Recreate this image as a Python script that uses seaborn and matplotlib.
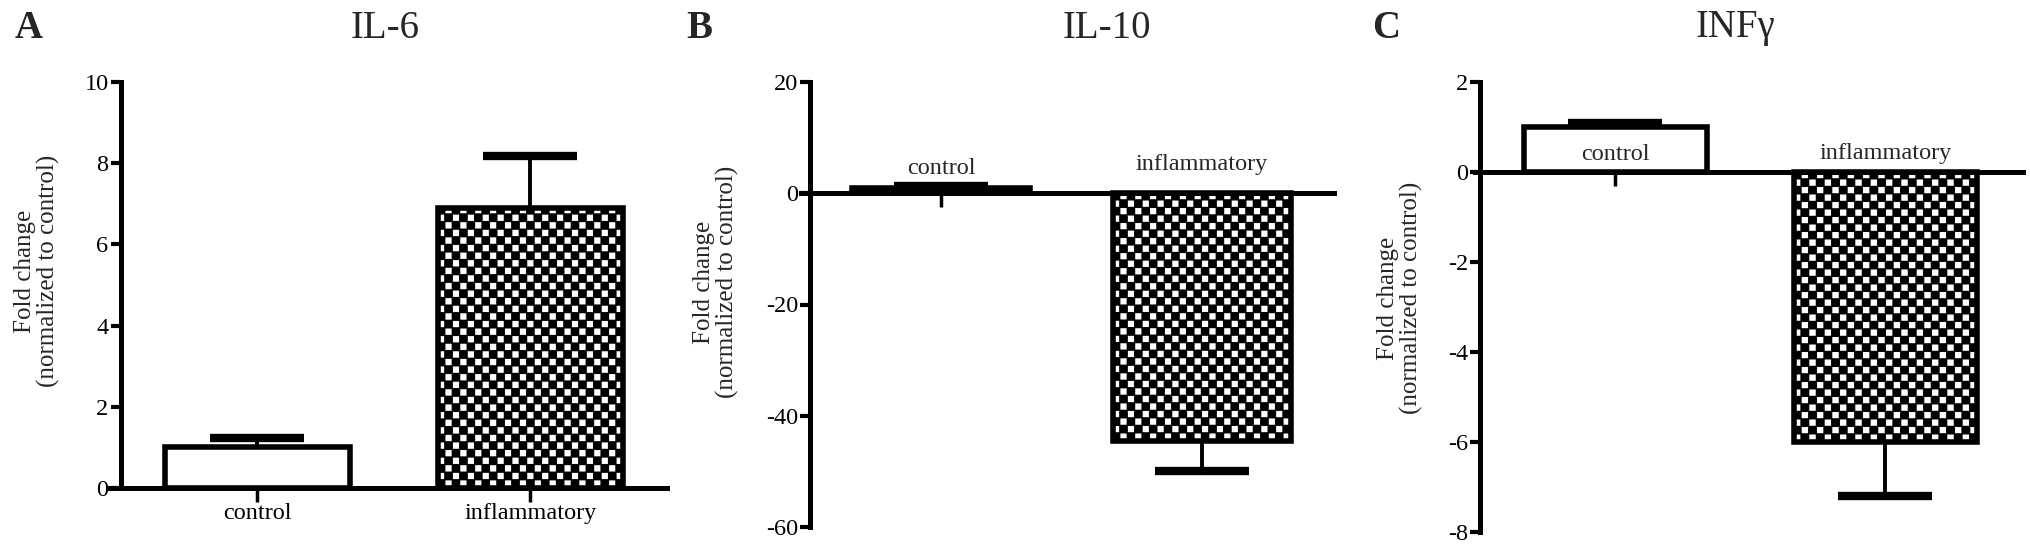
import numpy as np
import pandas as pd
import matplotlib
matplotlib.use("Agg")
import matplotlib.pyplot as plt
import seaborn as sns

# data (mean, one-sided SEM)
categories = ["control", "inflammatory"]

il6_mean = [1.0, 6.9]
il6_sem = [0.24, 1.28]

il10_mean = [1.0, -44.5]
il10_sem = [0.3, 5.5]

infg_mean = [1.0, -6.0]
infg_sem = [0.1, 1.2]

titles = ["IL-6", "IL-10", "INFγ"]
letters = ["A", "B", "C"]
ylims = [(0, 10), (-60, 20), (-8, 2)]
yticks = [[0, 2, 4, 6, 8, 10], [-60, -40, -20, 0, 20], [-8, -6, -4, -2, 0, 2]]
ylabel = "Fold change\n(normalized to control)"

W, H = 2031, 554

# layout in pixels: (left, top, right, bottom) of the axes, x limits,
# title / letter / ylabel centres, label offset above zero line (pt) or None
layout = [
    dict(box=(108.7, 82, 667, 488), xlim=(-0.545, 1.5), title_x=385, letter_x=29,
         ylab=(37, 271), lab_off=None),
    dict(box=(801, 82, 1334, 527), xlim=(-0.536, 1.506), title_x=1107, letter_x=699,
         ylab=(716, 282), lab_off=(13.5, 16.5)),
    dict(box=(1475, 82, 2023, 532), xlim=(-0.52, 1.51), title_x=1735, letter_x=1386,
         ylab=(1400, 298), lab_off=(9, 9)),
]

sns.set_style("ticks")
plt.rcParams["font.family"] = ["Liberation Serif", "DejaVu Serif"]
plt.rcParams["axes.unicode_minus"] = False

SMALL = 17.5


def checker_fill(ax, patch, cell_px=7.5, sub=6):
    """Fill a bar patch with a black/white checkerboard, clipped to the bar."""
    x0, y0 = patch.get_x(), patch.get_y()
    w, h = patch.get_width(), patch.get_height()
    (px0, py0), (px1, py1) = ax.transData.transform([(x0, y0), (x0 + w, y0 + h)])
    nx = max(1, int(round(abs(px1 - px0) / cell_px)))
    ny = max(1, int(round(abs(py1 - py0) / cell_px)))
    yy, xx = np.indices((ny * sub, nx * sub))
    cell = (yy // sub + xx // sub) % 2
    inner = (yy % sub < sub - 1) & (xx % sub < sub - 1)
    tex = np.where((cell == 1) & inner, 1.0, 0.0)
    ext = [x0, x0 + w, min(y0, y0 + h), max(y0, y0 + h)]
    im = ax.imshow(tex, cmap="gray", vmin=0, vmax=1, extent=ext, aspect="auto",
                   interpolation="antialiased", zorder=patch.get_zorder() - 0.1)
    im.set_clip_path(patch)
    patch.set_facecolor("none")


def draw_panel(fig, lay, means, sems, ylim, ticks, title, letter):
    l, t, r, b = lay["box"]
    ax = fig.add_axes([l / W, 1 - b / H, (r - l) / W, (b - t) / H])

    df = pd.DataFrame({"group": categories, "value": means})
    sns.barplot(data=df, x="group", y="value", order=categories, color="white",
                edgecolor="black", linewidth=4, width=0.68, errorbar=None,
                saturation=1, ax=ax)

    ax.set_xlim(lay["xlim"])
    ax.set_ylim(ylim)
    ax.set_yticks(ticks)

    # one-sided error bars (away from zero)
    for i, (m, s) in enumerate(zip(means, sems)):
        err = [[0], [s]] if m >= 0 else [[s], [0]]
        _, caps, _ = ax.errorbar([i], [m], yerr=err, fmt="none", ecolor="black",
                                 elinewidth=2.8, capsize=34, capthick=6, zorder=4)
        for c in caps:
            if np.allclose(c.get_ydata(), m):
                c.set_visible(False)

    checker_fill(ax, ax.patches[1])
    ax.set_xlim(lay["xlim"])
    ax.set_ylim(ylim)

    sns.despine(ax=ax)
    ax.spines["left"].set_position(("data", -0.5))
    ax.spines["bottom"].set_position(("data", 0))
    for s in ["left", "bottom"]:
        ax.spines[s].set_linewidth(3.6)
        ax.spines[s].set_color("black")
        ax.spines[s].set_zorder(5)
    ax.tick_params(axis="y", direction="out", length=7, width=3, labelsize=SMALL,
                   pad=2, colors="black")
    ax.tick_params(axis="x", direction="out", length=10, width=2.5, labelsize=SMALL,
                   pad=1, colors="black")
    ax.set_xlabel("")
    ax.set_ylabel("")

    if lay["lab_off"] is not None:
        ax.tick_params(axis="x", labelbottom=False)
        for i, (cat, off) in enumerate(zip(categories, lay["lab_off"])):
            ax.annotate(cat, xy=(i, 0), xytext=(0, off), textcoords="offset points",
                        ha="center", va="baseline", fontsize=SMALL)

    fig.text(lay["title_x"] / W, 1 - 28 / H, title, ha="center", va="center",
             fontsize=28)
    fig.text(lay["letter_x"] / W, 1 - 28 / H, letter, ha="center", va="center",
             fontsize=28, fontweight="bold")
    yx, yy = lay["ylab"]
    fig.text(yx / W, 1 - yy / H, ylabel, rotation=90, ha="center", va="center",
             multialignment="center", fontsize=18, linespacing=1.05)
    return ax


fig = plt.figure(figsize=(W / 100, H / 100), dpi=100)
fig.patch.set_facecolor("white")

series = [(il6_mean, il6_sem), (il10_mean, il10_sem), (infg_mean, infg_sem)]
for lay, (m, s), yl, tk, ti, le in zip(layout, series, ylims, yticks, titles, letters):
    draw_panel(fig, lay, m, s, yl, tk, ti, le)

fig.savefig("out.png", dpi=100, facecolor="white")
